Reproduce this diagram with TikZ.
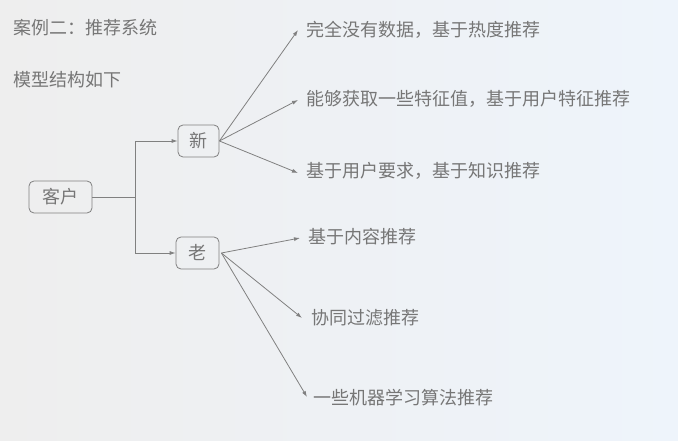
\documentclass[tikz,border=0pt]{standalone}
\usepackage{fontspec}
\setmainfont{Noto Sans CJK SC}
\usepackage{tikz}
\usetikzlibrary{arrows.meta}

\definecolor{txtgray}{HTML}{767676}
\definecolor{linegray}{HTML}{808080}
\definecolor{bgleft}{HTML}{EEEEEE}
\definecolor{bgright}{HTML}{EEF4FB}

\tikzset{
    box/.style={draw=linegray, line width=0.8pt, rounded corners=5pt, text=txtgray, minimum height=32pt, inner sep=0pt},
    leaf/.style={text=txtgray, anchor=west, inner sep=0pt},
    arr/.style={-{Latex[length=6pt,width=4pt]}, draw=linegray, line width=0.8pt}
}

\begin{document}
\begin{tikzpicture}[x=1pt, y=-1pt, font=\fontsize{18}{22}\selectfont]
    \shade [left color=bgleft, right color=bgright] (0,0) rectangle (678,441);
    \useasboundingbox (0,0) rectangle (678,441);

    \node [leaf] (title) at (13, 28) {案例二：推荐系统};
    \node [leaf] (subtitle) at (13, 80) {模型结构如下};

    \node [box, minimum width=63pt] (kehu) at (60.5, 197) {客户};
    \node [box, minimum width=41pt] (xin) at (198.5, 141) {新};
    \node [box, minimum width=43pt] (lao) at (197.5, 253) {老};
    \coordinate (fork) at (135, 197);

    \node [leaf] (xin_a) at (306, 30) {完全没有数据，基于热度推荐};
    \node [leaf] (xin_b) at (306, 99) {能够获取一些特征值，基于用户特征推荐};
    \node [leaf] (xin_c) at (306, 171) {基于用户要求，基于知识推荐};

    \node [leaf] (lao_a) at (308, 237) {基于内容推荐};
    \node [leaf] (lao_b) at (311, 318) {协同过滤推荐};
    \node [leaf] (lao_c) at (313, 398) {一些机器学习算法推荐};

    \draw [arr] (kehu.east) -- (fork) |- (xin.west);
    \draw [arr] (fork) |- (lao.west);

    \draw [arr] (xin.east) -- ([shift={(-8, 0)}]xin_a.west);
    \draw [arr] (xin.east) -- ([shift={(-8, 1)}]xin_b.west);
    \draw [arr] (xin.east) -- ([shift={(-8, 2)}]xin_c.west);

    \draw [arr] ([shift={(2, 0)}]lao.east) -- ([shift={(-8, 1)}]lao_a.west);
    \draw [arr] ([shift={(2, 0)}]lao.east) -- ([shift={(-9, 0)}]lao_b.west);
    \draw [arr] ([shift={(2, 0)}]lao.east) -- ([shift={(-6, -1)}]lao_c.west);

\end{tikzpicture}
\end{document}
